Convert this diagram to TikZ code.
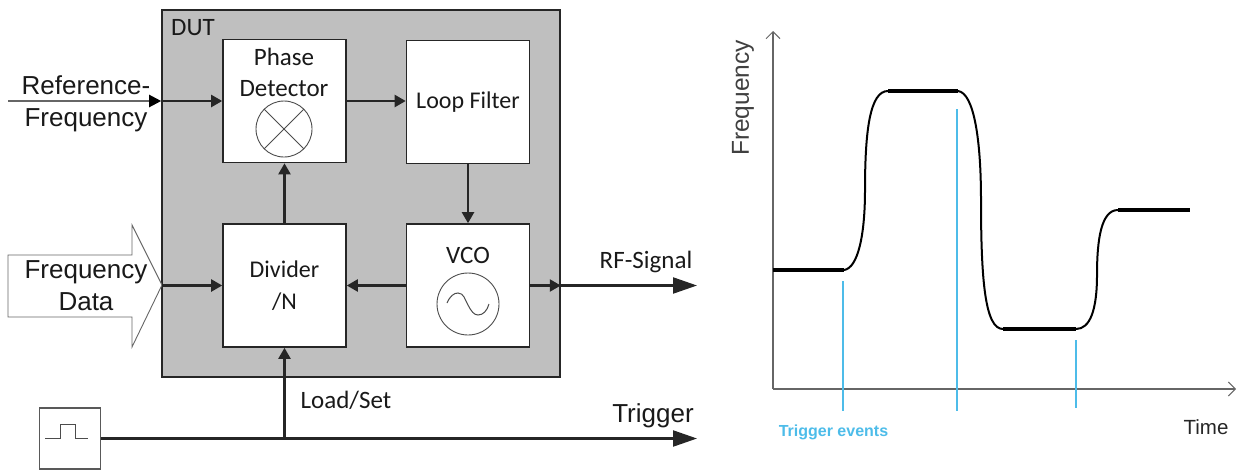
\documentclass[tikz,border=0pt]{standalone}
\usepackage{fontspec}
\setmainfont{Carlito}
\newfontfamily\arialf{Liberation Sans}
\usetikzlibrary{arrows.meta}
\definecolor{dutgray}{HTML}{BFBFBF}
\definecolor{linedark}{HTML}{262626}
\definecolor{trigblue}{HTML}{4DBCE9}
\definecolor{axisgray}{HTML}{666666}
\tikzset{
  dutbox/.style={draw=linedark,line width=1.6pt,fill=dutgray,rectangle,inner sep=0pt,minimum width=398pt,minimum height=367pt},
  block/.style={draw=linedark,line width=1.6pt,fill=white,rectangle,inner sep=0pt,minimum width=123pt,minimum height=123pt,align=center,font=\fontsize{24}{32}\selectfont,text=black!90},
  lab/.style={inner sep=0pt,align=center,text=black!90,font=\fontsize{25}{31}\selectfont},
  alab/.style={inner sep=0pt,align=center,text=black!90,font=\arialf\fontsize{26}{32}\selectfont},
  wire/.style={draw=linedark,line width=2.2pt},
  sarrow/.style={wire,-{Triangle[length=11pt,width=12pt]}},
  barrow/.style={wire,-{Triangle[length=24pt,width=16pt]}},
  thin symbol/.style={draw=black!70,line width=0.9pt},
  axisline/.style={draw=axisgray,line width=1.1pt,-{Straight Barb[length=7pt,width=14pt,line width=1pt]}},
  trace/.style={draw=black,line width=2pt},
  flat/.style={draw=black,line width=3.6pt},
  trigline/.style={draw=trigblue,line width=1.3pt},
}
\begin{document}
\begin{tikzpicture}[x=1pt,y=-1pt]
\useasboundingbox (0,0) rectangle (1244,471);
% Left: block diagram
\node[dutbox] (dut) at (361,193.5) {};
\node[block] (phase) at (284.5,101) {};
\node[block] (loop) at (468,102) {Loop Filter};
\node[block] (divider) at (284.5,285.5) {Divider\\/N};
\node[block] (vco) at (468,285.5) {};
\node[lab] (dutlabel) at (193,28) {DUT};
\node[lab] (phasetext) at (284,72) {Phase\\Detector};
\node[lab] (vcotext) at (468,255) {VCO};
\node[circle,thin symbol,inner sep=0pt,minimum size=56pt] (mixer) at (284,129) {};
\draw[thin symbol] (mixer.45) -- (mixer.225) (mixer.135) -- (mixer.315);
\node[circle,thin symbol,inner sep=0pt,minimum size=62pt] (osc) at (468,304) {};
\draw[thin symbol,line width=1pt] (447,303) .. controls (450,296) and (454,293) .. (458,293) .. controls (464,293) and (465,300) .. (468,305) .. controls (471,311) and (474,315) .. (478,315) .. controls (483,315) and (487,311) .. (489,304);
% Frequency data arrow
\draw[draw=black!60,line width=0.9pt,fill=white] (162,285) -- (132,225) -- (132,255) -- (8,255) -- (8,317) -- (132,317) -- (132,347) -- cycle;
\node[alab] (freqdata) at (86,286) {Frequency\\Data};
\node[alab] (reflabel) at (86,104) {Reference-\\Frequency};
% Trigger source
\node[draw=black!65,line width=1.3pt,fill=white,rectangle,inner sep=0pt,minimum width=61pt,minimum height=61pt] (source) at (70,438.5) {};
\draw[thin symbol,line width=1pt] (45,438) -- (60,438) -- (60,424) -- (75,424) -- (75,438) -- (88,438);
% Free end points
\coordinate (refstart) at (8,101);
\coordinate (refjoin) at (dut.west |- phase.west);
\coordinate (freqtip) at (162,285.5);
\coordinate (rfjoin) at (dut.east |- vco.east);
\coordinate (rfend) at (697,285.5);
\coordinate (trigend) at (697,438.5);
\coordinate (loadjoin) at (divider.south |- source.east);
% Connectors
\draw[sarrow,draw=black!60,-{Triangle[length=12pt,width=12pt,color=black]}] (refstart) -- (refjoin);
\draw[sarrow] (refjoin) -- (phase.west);
\draw[sarrow] (phase.east) -- (loop.west |- phase.east);
\draw[sarrow] (loop.south) -- (vco.north);
\draw[sarrow] (vco.west) -- (divider.east);
\draw[sarrow] (divider.north) -- (phase.south);
\draw[sarrow] (freqtip) -- (divider.west);
\draw[sarrow] (vco.east) -- (rfjoin);
\draw[barrow] (rfjoin) -- (rfend);
\draw[barrow] (source.east) -- (trigend);
\draw[sarrow] (loadjoin) -- (divider.south);
\node[lab] (rflabel) at (646,262) {RF-Signal};
\node[lab] (loadlabel) at (346,400) {Load/Set};
\node[alab] (triglabel) at (653,416) {Trigger};
% Right: plot
\coordinate (origin) at (773,389);
\coordinate (ytop) at (773,31);
\coordinate (xend) at (1236,389);
\draw[axisline] (origin) -- (ytop);
\draw[axisline] (origin) -- (xend);
\node[inner sep=0pt,rotate=90,text=black!75,font=\arialf\fontsize{24.5}{28}\selectfont] (ylabel) at (743,98) {Frequency};
\node[inner sep=0pt,text=black!85,font=\arialf\fontsize{20.5}{24}\selectfont] (xlabel) at (1206,427) {Time};
\draw[trigline] (843,281) -- (843,411);
\draw[trigline] (957,109) -- (957,411);
\draw[trigline] (1076,340) -- (1076,408);
\node[inner sep=0pt,text=trigblue,font=\arialf\bfseries\fontsize{16}{18}\selectfont] (trigevents) at (833.5,432) {Trigger events};
\draw[flat] (773,270) -- (844,270);
\draw[trace] (844,270) .. controls (858,268) and (865,235) .. (865,190) .. controls (865,130) and (870,91) .. (888,91);
\draw[flat] (888,91) -- (958,91);
\draw[trace] (958,91) .. controls (974,93) and (981,140) .. (981,200) .. controls (981,280) and (985,329) .. (1003,329);
\draw[flat] (1003,329) -- (1076,329);
\draw[trace] (1076,329) .. controls (1090,329) and (1097,310) .. (1097,275) .. controls (1097,240) and (1101,210) .. (1118,210);
\draw[flat] (1118,210) -- (1190,210);
\end{tikzpicture}
\end{document}
